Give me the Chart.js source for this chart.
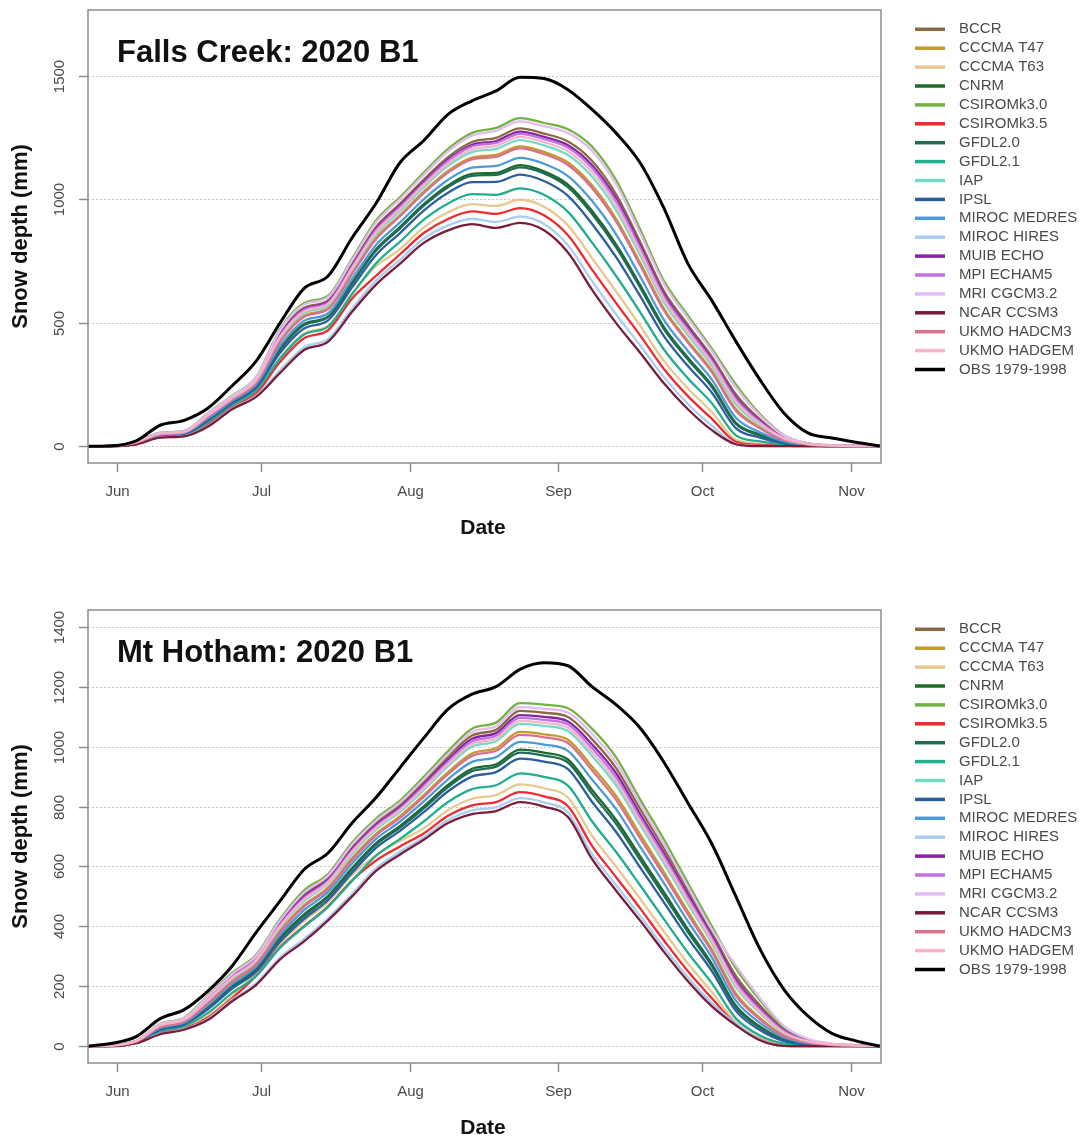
<!DOCTYPE html>
<html>
<head>
<meta charset="utf-8">
<title>Snow depth: 2020 B1</title>
<script src="https://cdn.jsdelivr.net/npm/chart.js@4.4.1/dist/chart.umd.min.js"></script>
<style>
    html, body { margin: 0; padding: 0; background: #fff; }
    .panel { position: absolute; left: 0; width: 1090px; height: 570px; }
</style>
</head>
<body>
<div class="panel" style="top:0"><canvas id="fallsChart" width="1090" height="570"></canvas></div>
<div class="panel" style="top:570px"><canvas id="hothamChart" width="1090" height="570"></canvas></div>

<script>
// day offsets from 1 June
const days = [-6,-1,4,9,14,19,24,29,34,39,44,49,54,59,64,69,74,79,84,89,94,99,104,109,114,119,124,129,134,139,144,149,154,159];
const monthTicks = [0, 30, 61, 92, 122, 153];
const monthLabels = ['Jun', 'Jul', 'Aug', 'Sep', 'Oct', 'Nov'];

const seriesNames = ['BCCR','CCCMA T47','CCCMA T63','CNRM','CSIROMk3.0','CSIROMk3.5','GFDL2.0','GFDL2.1','IAP','IPSL',
    'MIROC MEDRES','MIROC HIRES','MUIB ECHO','MPI ECHAM5','MRI CGCM3.2','NCAR CCSM3','UKMO HADCM3','UKMO HADGEM','OBS 1979-1998'];
const seriesColors = ['#8b6b3d','#c29b2e','#e6c98e','#1d6a2b','#73b343','#ef2b2f','#1f6b56','#22ad8f','#72dcc6','#2b5f9c',
    '#4b9bd8','#a9cff0','#8724a6','#c174e0','#e3bdf2','#7b1c3a','#d9708c','#f7b3c9','#000000'];

const fallsTicks = [0, 500, 1000, 1500];
const hothamTicks = [0, 200, 400, 600, 800, 1000, 1200, 1400];

// Falls Creek (mm)
const fcBCCR    = [0,1,17,53,60,130,200,272,457,561,591,739,889,983,1082,1172,1233,1250,1288,1267,1235,1157,1022,830,629,492,362,211,109,38,10,3,2,1];
const fcT47     = [0,1,15,50,56,120,190,258,427,529,560,702,845,937,1033,1116,1170,1181,1215,1193,1150,1058,923,745,558,427,306,151,77,27,7,2,1,1];
const fcT63     = [0,0,10,39,45,92,162,218,359,457,489,620,730,799,888,948,981,974,999,971,895,763,628,490,346,234,138,27,10,4,1,0,0,0];
const fcCNRM    = [0,1,14,46,52,110,180,244,395,495,526,663,798,889,982,1057,1104,1108,1139,1114,1060,954,819,655,483,359,247,95,47,16,4,1,1,0];
const fcCSIRO30 = [0,1,18,55,62,135,205,280,475,580,610,760,915,1010,1110,1205,1270,1290,1330,1310,1285,1215,1080,880,670,530,395,250,130,45,12,4,2,1];
const fcCSIRO35 = [0,0,9,38,43,88,158,214,342,438,470,599,691,778,865,921,952,942,965,936,855,716,581,450,313,203,111,18,5,2,0,0,0,0];
const fcGFDL20  = [0,1,13,46,52,109,179,242,391,491,523,659,793,883,976,1050,1096,1100,1130,1106,1050,942,807,645,475,351,240,90,44,15,4,1,1,0];
const fcGFDL21  = [0,0,11,42,47,98,168,226,356,453,485,616,741,829,919,984,1022,1019,1045,1019,950,826,691,545,392,275,174,44,20,7,2,1,0,0];
const fcIAP     = [0,1,16,51,57,124,194,263,438,540,571,715,860,953,1050,1136,1192,1205,1241,1219,1180,1093,958,775,583,450,326,170,87,30,8,3,1,1];
const fcIPSL    = [0,0,13,44,50,105,175,237,379,477,510,644,775,864,956,1027,1070,1071,1101,1075,1015,902,767,610,446,325,217,73,35,12,3,1,1,0];
const fcMEDRES  = [0,1,14,47,54,114,184,250,407,508,539,678,816,907,1002,1080,1129,1136,1169,1145,1095,995,860,690,512,386,270,115,57,20,5,2,1,0];
const fcHIRES   = [0,0,9,36,41,83,153,205,308,401,435,558,671,756,842,895,922,909,931,901,815,670,535,410,280,171,83,10,1,0,0,0,0,0];
const fcMUIB    = [0,1,17,52,59,128,198,270,452,555,586,732,881,975,1073,1162,1222,1237,1275,1254,1220,1140,1005,815,616,481,352,199,103,36,9,3,2,1];
const fcMPI     = [0,1,17,52,59,127,197,268,448,552,582,728,876,970,1067,1156,1215,1229,1266,1245,1210,1128,993,805,608,473,346,192,99,34,9,3,2,1];
const fcMRI     = [0,1,18,54,61,133,203,278,470,574,604,754,907,1002,1101,1195,1259,1278,1317,1297,1270,1198,1063,865,658,519,385,238,124,43,11,4,2,1];
const fcNCAR    = [0,0,8,35,40,80,150,200,297,390,424,545,655,740,825,875,900,885,905,875,785,635,500,380,255,150,65,8,0,0,0,0,0,0];
const fcHADCM3  = [0,1,15,49,56,119,189,257,423,525,556,698,840,932,1027,1109,1163,1173,1207,1184,1140,1047,912,735,550,420,299,144,73,25,7,2,1,1];
const fcHADGEM  = [0,1,16,51,58,125,195,266,443,546,577,721,868,961,1059,1146,1203,1217,1254,1232,1195,1111,976,790,595,462,336,180,92,32,9,3,1,1];
const fcOBS     = [0,2,22,85,105,155,245,345,500,640,690,845,985,1150,1240,1345,1400,1440,1495,1490,1445,1365,1270,1150,965,740,590,425,270,135,54,33,16,1];

// Mt Hotham (mm)
const mhBCCR    = [0,3,17,72,92,163,237,297,414,506,563,666,746,806,883,966,1037,1056,1119,1113,1099,1025,929,793,660,519,379,235,137,57,20,7,3,1];
const mhT47     = [0,2,16,65,83,146,218,276,386,471,530,628,709,768,839,915,977,995,1049,1041,1023,934,836,708,581,450,323,176,95,37,13,4,2,1];
const mhT63     = [0,1,11,46,62,103,167,245,344,418,482,572,637,685,728,788,826,838,874,861,830,703,600,493,383,276,181,80,27,4,1,0,0,0];
const mhCNRM    = [0,2,14,59,76,132,200,258,362,440,502,595,678,735,801,872,926,941,990,980,957,856,756,635,514,391,275,135,66,23,8,3,1,0];
const mhCSIRO30 = [0,3,18,75,95,170,245,305,425,520,575,680,760,820,900,985,1060,1080,1145,1140,1128,1060,965,825,690,545,400,260,154,65,23,8,3,1];
const mhCSIRO35 = [0,0,11,44,59,96,160,235,331,401,467,554,620,667,711,769,804,815,848,834,801,669,565,461,353,250,160,74,23,2,0,0,0,0];
const mhGFDL20  = [0,2,14,58,75,129,198,255,358,435,498,590,673,730,795,865,918,933,980,970,947,843,743,623,503,381,267,129,62,21,7,2,1,0];
const mhGFDL21  = [0,1,12,50,67,112,178,234,329,399,465,552,636,692,751,815,858,871,911,899,870,751,649,538,424,312,210,93,36,9,3,1,0,0];
const mhIAP     = [0,2,16,68,87,153,225,284,397,484,543,642,723,782,856,935,1000,1018,1076,1069,1052,969,872,740,611,476,344,197,110,44,15,5,2,1];
const mhIPSL    = [0,1,14,55,73,124,192,249,349,425,488,579,662,719,782,851,900,915,960,950,925,816,716,598,480,361,251,118,54,17,6,2,1,0];
const mhMEDRES  = [0,2,15,61,79,138,208,266,372,454,515,610,692,750,818,891,949,965,1016,1007,986,890,792,667,544,417,296,152,78,29,10,3,1,0];
const mhHIRES   = [0,0,10,41,57,92,155,210,297,358,428,509,594,649,698,755,787,797,828,814,780,642,538,436,330,230,144,75,22,1,0,0,0,0];
const mhMUIB    = [0,3,17,71,90,160,234,293,409,500,556,658,739,798,875,956,1026,1045,1105,1099,1084,1008,912,776,645,506,368,222,127,52,18,6,2,1];
const mhMPI     = [0,3,17,70,89,158,231,290,405,495,552,653,734,793,869,949,1017,1036,1096,1089,1074,995,898,764,634,496,360,214,122,50,17,6,2,1];
const mhMRI     = [0,3,18,74,93,167,241,301,420,513,569,673,753,813,892,975,1049,1068,1132,1126,1114,1043,947,809,675,532,389,270,161,68,25,9,4,1];
const mhNCAR    = [0,0,10,40,55,88,150,205,290,350,420,500,585,640,690,745,775,785,815,800,765,625,520,420,315,217,133,70,20,1,0,0,0,0];
const mhHADCM3  = [0,2,15,64,82,144,215,273,382,466,525,622,704,762,833,908,969,986,1039,1031,1012,921,823,695,570,440,315,169,90,34,12,4,2,1];
const mhHADGEM  = [0,2,17,69,88,155,228,287,401,489,547,648,729,788,862,942,1009,1027,1086,1079,1063,982,885,752,623,486,352,205,115,46,16,6,2,1];
const mhOBS     = [0,10,32,92,122,185,268,380,485,590,645,745,830,930,1030,1125,1175,1200,1258,1280,1270,1200,1140,1063,948,812,675,500,325,190,101,43,18,0];

const fallsSeries = [fcBCCR, fcT47, fcT63, fcCNRM, fcCSIRO30, fcCSIRO35, fcGFDL20, fcGFDL21, fcIAP, fcIPSL,
    fcMEDRES, fcHIRES, fcMUIB, fcMPI, fcMRI, fcNCAR, fcHADCM3, fcHADGEM, fcOBS];
const hothamSeries = [mhBCCR, mhT47, mhT63, mhCNRM, mhCSIRO30, mhCSIRO35, mhGFDL20, mhGFDL21, mhIAP, mhIPSL,
    mhMEDRES, mhHIRES, mhMUIB, mhMPI, mhMRI, mhNCAR, mhHADCM3, mhHADGEM, mhOBS];

const FONT = '"Liberation Sans", Arial, Helvetica, sans-serif';

// box, axes, titles and legend in the R style
const snowFrame = {
    id: 'snowFrame',
    beforeDatasetsDraw(chart, args, opts) {
        const { ctx, chartArea: a, scales: { y } } = chart;
        ctx.save();
        ctx.strokeStyle = '#c4c4c4';
        ctx.lineWidth = 1;
        ctx.setLineDash([2, 2]);
        opts.yTicks.forEach(v => {
            const py = Math.round(y.getPixelForValue(v)) + 0.5;
            ctx.beginPath();
            ctx.moveTo(a.left, py);
            ctx.lineTo(a.right, py);
            ctx.stroke();
        });
        ctx.restore();
    },
    afterDraw(chart, args, opts) {
        const { ctx, chartArea: a, scales: { x, y } } = chart;
        ctx.save();

        ctx.strokeStyle = '#8c8c8c';
        ctx.lineWidth = 1.5;
        ctx.strokeRect(a.left, a.top, a.right - a.left, a.bottom - a.top);

        ctx.fillStyle = '#4a4a4a';
        ctx.font = '15px ' + FONT;
        ctx.textAlign = 'center';
        ctx.textBaseline = 'middle';

        // x axis
        monthTicks.forEach((d, i) => {
            const px = Math.round(x.getPixelForValue(d)) + 0.5;
            ctx.beginPath();
            ctx.moveTo(px, a.bottom);
            ctx.lineTo(px, a.bottom + 9);
            ctx.stroke();
            ctx.fillText(monthLabels[i], px, a.bottom + 29);
        });

        // y axis
        opts.yTicks.forEach(v => {
            const py = Math.round(y.getPixelForValue(v)) + 0.5;
            ctx.beginPath();
            ctx.moveTo(a.left - 9, py);
            ctx.lineTo(a.left, py);
            ctx.stroke();
            ctx.save();
            ctx.translate(a.left - 28, py);
            ctx.rotate(-Math.PI / 2);
            ctx.fillText(String(v), 0, 0);
            ctx.restore();
        });

        // axis titles
        ctx.fillStyle = '#111';
        ctx.font = 'bold 21px ' + FONT;
        ctx.fillText('Date', 483, a.bottom + 65);
        ctx.font = 'bold 22px ' + FONT;
        ctx.save();
        ctx.translate(21, (a.top + a.bottom) / 2);
        ctx.rotate(-Math.PI / 2);
        ctx.fillText('Snow depth (mm)', 0, 0);
        ctx.restore();

        // panel title
        ctx.textAlign = 'left';
        ctx.textBaseline = 'alphabetic';
        ctx.font = 'bold 31px ' + FONT;
        ctx.fillText(opts.title, 117, a.top + 52);

        // legend
        ctx.font = '15px ' + FONT;
        ctx.textBaseline = 'middle';
        ctx.lineWidth = 3.5;
        chart.data.datasets.forEach((ds, i) => {
            const ly = a.top + 19.3 + i * 18.9;
            ctx.strokeStyle = ds.borderColor;
            ctx.beginPath();
            ctx.moveTo(915, ly);
            ctx.lineTo(945, ly);
            ctx.stroke();
            ctx.fillStyle = '#4a4a4a';
            ctx.fillText(ds.label, 959, ly);
        });

        ctx.restore();
    }
};

function makePanel(canvasId, series, title, yMin, yMax, yTicks, padTop, padBottom) {
    const datasets = series.map((vals, i) => ({
        label: seriesNames[i],
        data: vals.map((v, j) => ({ x: days[j], y: v })),
        borderColor: seriesColors[i],
        borderWidth: i === series.length - 1 ? 3 : 2.3,
        pointRadius: 0,
        fill: false,
        cubicInterpolationMode: 'monotone',
        order: series.length - i
    }));

    return new Chart(document.getElementById(canvasId), {
        type: 'line',
        data: { datasets: datasets },
        options: {
            responsive: false,
            animation: false,
            layout: { padding: { left: 88, right: 209, top: padTop, bottom: padBottom } },
            plugins: {
                legend: { display: false },
                tooltip: { enabled: false },
                snowFrame: { title: title, yTicks: yTicks }
            },
            scales: {
                x: { type: 'linear', display: false, min: -6.05, max: 159.25 },
                y: { display: false, min: yMin, max: yMax }
            }
        },
        plugins: [snowFrame]
    });
}

makePanel('fallsChart', fallsSeries, 'Falls Creek: 2020 B1', -68, 1768, fallsTicks, 10, 107);
makePanel('hothamChart', hothamSeries, 'Mt Hotham: 2020 B1', -56, 1456, hothamTicks, 40, 77);
</script>
</body>
</html>
